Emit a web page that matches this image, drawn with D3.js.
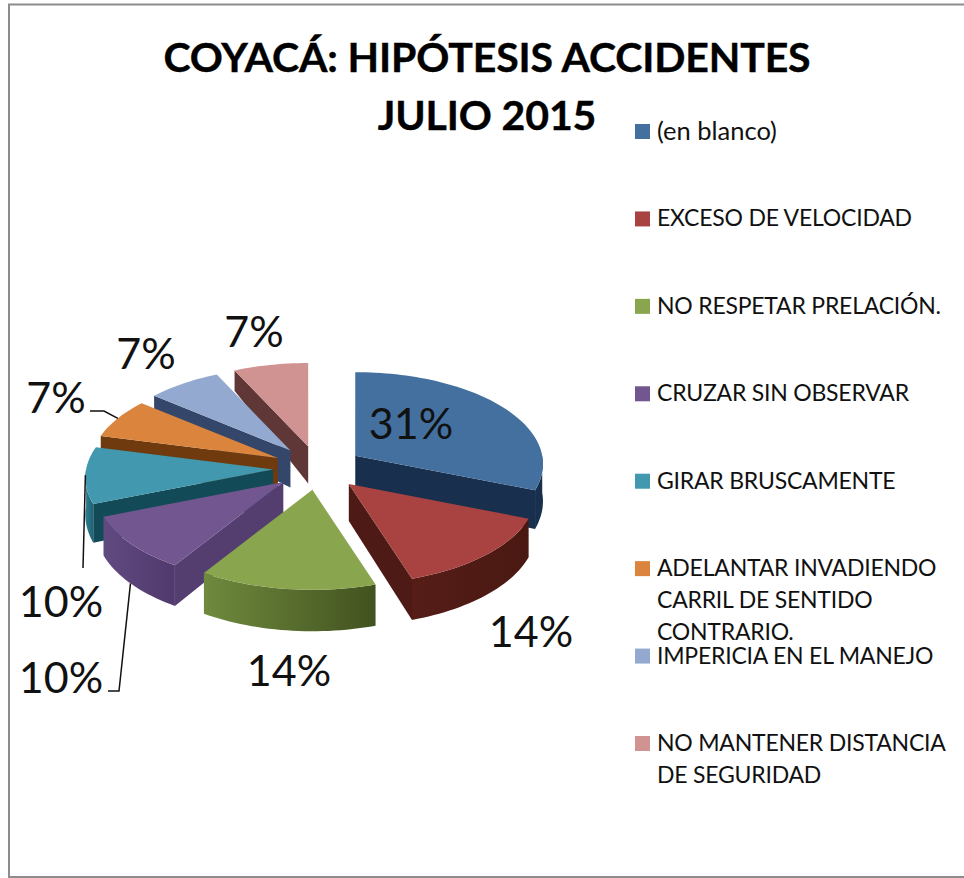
<!DOCTYPE html>
<html>
<head>
<meta charset="utf-8">
<script src="https://cdn.jsdelivr.net/npm/d3@7"></script>
<style>
  html, body { margin: 0; padding: 0; background: #fff; }
  svg { display: block; }
  text { font-family: Lato, "Open Sans", sans-serif; fill: #111; }
</style>
</head>
<body>
<svg></svg>
<script>
// chart values
var categories = ["(en blanco)", "EXCESO DE VELOCIDAD", "NO RESPETAR PRELACIÓN.", "CRUZAR SIN OBSERVAR",
  "GIRAR BRUSCAMENTE", "ADELANTAR INVADIENDO CARRIL DE SENTIDO CONTRARIO.", "IMPERICIA EN EL MANEJO",
  "NO MANTENER DISTANCIA DE SEGURIDAD"];
var percents = [31, 14, 14, 10, 10, 7, 7, 7];
var titleLines = ["COYACÁ: HIPÓTESIS ACCIDENTES", "JULIO 2015"];
var legendLines = [["(en blanco)"], ["EXCESO DE VELOCIDAD"], ["NO RESPETAR PRELACIÓN."], ["CRUZAR SIN OBSERVAR"],
  ["GIRAR BRUSCAMENTE"], ["ADELANTAR INVADIENDO", "CARRIL DE SENTIDO", "CONTRARIO."], ["IMPERICIA EN EL MANEJO"],
  ["NO MANTENER DISTANCIA", "DE SEGURIDAD"]];

// colours
var topColors = ["#44709f", "#a94341", "#89a54e", "#71568f", "#4198af", "#db843d", "#93a9cf", "#d19392"];
var wallColors = ["#182f4e", "#4e1a15", "#5b7233", "#533e6f", "#124a57", "#6e3a0e", "#34476a", "#5f3736"];
var rimLeft = ["#182f4e", "#561d17", "#6f8a3e", "#614a80", "#2f7f92", "#7a4210", "#3c5078", "#6a3d3c"];
var rimRight = ["#182f4e", "#4a1812", "#42521f", "#50396c", "#1f6273", "#6e3a0e", "#34476a", "#5f3736"];

var width = 964, height = 878;
var svg = d3.select("svg").attr("width", width).attr("height", height);

var color = d3.scaleOrdinal().domain(categories).range(topColors);
var wall = d3.scaleOrdinal().domain(categories).range(wallColors);

// frame
svg.append("path")
  .attr("d", "M964,4.5H9V877H964")
  .attr("fill", "none")
  .attr("stroke", "#8c8c8c")
  .attr("stroke-width", 2);

// title
svg.selectAll(".title")
  .data(titleLines)
  .enter()
  .append("text")
  .attr("class", "title")
  .attr("x", 487)
  .attr("y", function(d, i) { return 72 + i * 58; })
  .attr("text-anchor", "middle")
  .attr("font-size", 41)
  .attr("font-weight", 700)
  .attr("letter-spacing", -0.13)
  .style("fill", "#000")
  .style("stroke", "#000")
  .style("stroke-width", 0.4)
  .text(function(d) { return d; });

// pie, tilted and pulled apart
var pie = d3.pie().sort(null).value(function(d) { return d.value; });
var rows = categories.map(function(c, i) { return { name: c, value: percents[i] }; });
var slices = pie(rows);

var center = { x: 318, y: 468 };
var rx = 187, ry = 91, depth = 37, persp = 0.09;
var pullX = 45, pullY = 22;

var apex = function(s) {
  var mid = (s.startAngle + s.endAngle) / 2;
  return [center.x + pullX * Math.sin(mid), center.y - pullY * Math.cos(mid)];
};
// point on the rim of a slice, front of the pie drawn a bit bigger
var rimPoint = function(s, a) {
  var p = apex(s), v = -Math.cos(a), k = 1 / (1 - persp * v);
  return [p[0] + rx * Math.sin(a) * k, p[1] + ry * v * k];
};
// same point at the bottom of the slice, thickness grows toward the front
var rimBottom = function(s, a) {
  var p = rimPoint(s, a), v = -Math.cos(a);
  return [p[0], p[1] + depth * (v > 0 ? 1 + 0.12 * v : 1 + 0.5 * v)];
};
var apexBottom = function(s) {
  var p = apex(s);
  return [p[0], p[1] + depth];
};
var angleSteps = function(a0, a1) {
  var out = [], n = Math.max(2, Math.ceil((a1 - a0) / 0.03));
  for (var i = 0; i <= n; i++) out.push(a0 + (a1 - a0) * i / n);
  return out;
};
var pathLine = d3.line().curve(d3.curveLinear);
var ring = function(pts) { return pathLine(pts) + "Z"; };

// a side wall only shows when the top of the slice lies above its edge
var wallShows = function(s, edgeAngle) {
  var A = apex(s), E = rimPoint(s, edgeAngle);
  var M = rimPoint(s, (s.startAngle + s.endAngle) / 2);
  if (Math.abs(E[0] - A[0]) < 0.001) return false;
  var lineY = A[1] + (E[1] - A[1]) * (M[0] - A[0]) / (E[0] - A[0]);
  return M[1] < lineY;
};

var defs = svg.append("defs");
rows.forEach(function(r, i) {
  var g = defs.append("linearGradient").attr("id", "rim" + i);
  g.append("stop").attr("offset", "0%").attr("stop-color", rimLeft[i]);
  g.append("stop").attr("offset", "100%").attr("stop-color", rimRight[i]);
});

// back to front
var drawOrder = [7, 6, 5, 4, 0, 3, 1, 2];
drawOrder.forEach(function(i) {
  var s = slices[i], name = s.data.name;
  var g = svg.append("g").attr("class", "slice");
  var A = apex(s);

  [s.startAngle, s.endAngle].forEach(function(a) {
    if (!wallShows(s, a)) return;
    g.append("path")
      .attr("d", ring([A, rimPoint(s, a), rimBottom(s, a), apexBottom(s)]))
      .attr("fill", wall(name));
  });

  var a0 = Math.max(s.startAngle, Math.PI / 2), a1 = Math.min(s.endAngle, Math.PI * 1.5);
  if (a1 > a0) {
    var steps = angleSteps(a0, a1);
    var upper = steps.map(function(a) { return rimPoint(s, a); });
    var lower = steps.map(function(a) { return rimBottom(s, a); }).reverse();
    g.append("path")
      .attr("d", ring(upper.concat(lower)))
      .attr("fill", "url(#rim" + i + ")");
  }

  var topEdge = angleSteps(s.startAngle, s.endAngle).map(function(a) { return rimPoint(s, a); });
  g.append("path")
    .attr("d", ring([A].concat(topEdge)))
    .attr("fill", color(name));
});

// data labels, placed by hand in the original
var labelAt = [[411, 424], [531, 632], [289, 671], [61, 602], [61, 678], [56, 398], [146, 354], [254, 332]];
svg.selectAll(".pct")
  .data(slices)
  .enter()
  .append("text")
  .attr("class", "pct")
  .attr("x", function(d, i) { return labelAt[i][0]; })
  .attr("y", function(d, i) { return labelAt[i][1]; })
  .attr("dy", "0.35em")
  .attr("text-anchor", "middle")
  .attr("font-size", 43)
  .text(function(d) { return d.data.value + "%"; });

// leader lines
var leaderEnd = { 3: [[119, 691], [108, 691]], 4: [[83, 568]], 5: [[104, 411], [90, 411]] };
Object.keys(leaderEnd).forEach(function(k) {
  var s = slices[k], mid = (s.startAngle + s.endAngle) / 2;
  var start = k == 3 ? rimBottom(s, mid) : rimPoint(s, mid);
  svg.append("path")
    .attr("d", pathLine([start].concat(leaderEnd[k])))
    .attr("fill", "none")
    .attr("stroke", "#111")
    .attr("stroke-width", 1.5);
});

// legend
var legendY = d3.scalePoint().domain(categories).range([131, 743]);
var legend = svg.selectAll(".legend")
  .data(categories)
  .enter()
  .append("g")
  .attr("class", "legend")
  .attr("transform", function(d) { return "translate(635," + legendY(d) + ")"; });
legend.append("rect")
  .attr("y", -7)
  .attr("width", 15)
  .attr("height", 15)
  .attr("fill", function(d) { return color(d); });
legend.each(function(d, i) {
  d3.select(this).selectAll("text")
    .data(legendLines[i])
    .enter()
    .append("text")
    .attr("x", 22)
    .attr("y", function(t, j) { return j * 32; })
    .attr("dy", "0.35em")
    .attr("font-size", i == 0 ? 25.5 : 23)
    .attr("letter-spacing", i == 0 ? 0 : -0.22)
    .text(function(t) { return t; });
});
</script>
</body>
</html>
